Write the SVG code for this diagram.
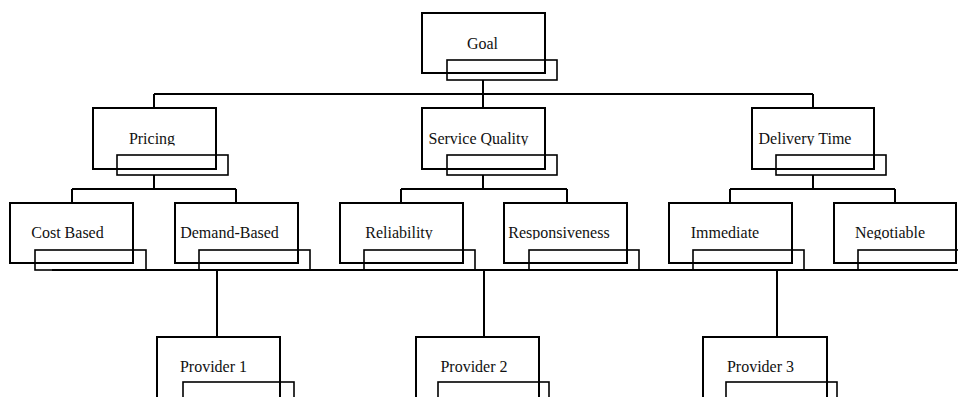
<svg xmlns="http://www.w3.org/2000/svg" width="958" height="397" viewBox="0 0 958 397">
<style>
.box{fill:none;stroke:#000;stroke-width:2}
.tab{fill:none;stroke:#000;stroke-width:1.6}
.con{fill:none;stroke:#000;stroke-width:2}
text{font-family:"Liberation Serif","Times New Roman",serif;font-size:16px;fill:#111;text-anchor:middle}
</style>
<defs>
<clipPath id="c0" clipPathUnits="userSpaceOnUse"><rect x="0" y="0" width="958" height="50.5"/></clipPath>
<clipPath id="c1" clipPathUnits="userSpaceOnUse"><rect x="0" y="100" width="958" height="45.5"/></clipPath>
<clipPath id="c2" clipPathUnits="userSpaceOnUse"><rect x="0" y="200" width="958" height="39.5"/></clipPath>
<clipPath id="c3" clipPathUnits="userSpaceOnUse"><rect x="0" y="340" width="958" height="33.5"/></clipPath>
</defs>
<rect width="958" height="397" fill="#fff"/>
<g id="connectors">
<path class="con" d="M483 80V94M154 94H813M154 94V108M483 94V108M813 94V108"/>
<path class="con" d="M154 175V189M72 189H236M72 189V203M236 189V203"/>
<path class="con" d="M483 175V189M401 189H567M401 189V203M567 189V203"/>
<path class="con" d="M813 175V189M730 189H895M730 189V203M895 189V203"/>
<path class="con" d="M52 270H958" stroke-width="1.6"/>
<path class="con" d="M217 270V337M484 270V337M777 270V337"/>
</g>
<g id="goal"><rect class="box" x="422" y="13" width="123" height="60"/><rect class="tab" x="447" y="60" width="110" height="20"/><text x="482.5" y="49" clip-path="url(#c0)">Goal</text></g>
<g id="pricing"><rect class="box" x="93" y="108" width="123" height="61"/><rect class="tab" x="117" y="155" width="111" height="20"/><text x="152" y="144" clip-path="url(#c1)">Pricing</text></g>
<g id="service-quality"><rect class="box" x="422" y="108" width="123" height="61"/><rect class="tab" x="447" y="155" width="110" height="20"/><text x="478.5" y="144" clip-path="url(#c1)">Service Quality</text></g>
<g id="delivery-time"><rect class="box" x="752" y="108" width="122" height="61"/><rect class="tab" x="776" y="155" width="110" height="20"/><text x="805" y="144" clip-path="url(#c1)">Delivery Time</text></g>
<g id="cost-based"><rect class="box" x="10" y="203" width="123" height="60"/><rect class="tab" x="35" y="250" width="111" height="20"/><text x="67.5" y="238" clip-path="url(#c2)">Cost Based</text></g>
<g id="demand-based"><rect class="box" x="175" y="203" width="123" height="60"/><rect class="tab" x="199" y="250" width="111" height="20"/><text x="229.5" y="238" clip-path="url(#c2)">Demand-Based</text></g>
<g id="reliability"><rect class="box" x="340" y="203" width="123" height="60"/><rect class="tab" x="364" y="250" width="111" height="20"/><text x="399" y="238" clip-path="url(#c2)">Reliability</text></g>
<g id="responsiveness"><rect class="box" x="504" y="203" width="123" height="60"/><rect class="tab" x="529" y="250" width="110" height="20"/><text x="559" y="238" clip-path="url(#c2)">Responsiveness</text></g>
<g id="immediate"><rect class="box" x="669" y="203" width="123" height="60"/><rect class="tab" x="693" y="250" width="111" height="20"/><text x="725" y="238" clip-path="url(#c2)">Immediate</text></g>
<g id="negotiable"><rect class="box" x="834" y="203" width="122" height="60"/><rect class="tab" x="858" y="250" width="111" height="20"/><text x="890" y="238" clip-path="url(#c2)">Negotiable</text></g>
<g id="provider-1"><rect class="box" x="157" y="337" width="123" height="62"/><rect class="tab" x="183" y="382" width="111" height="20"/><text x="213.5" y="372" clip-path="url(#c3)">Provider 1</text></g>
<g id="provider-2"><rect class="box" x="416" y="337" width="123" height="62"/><rect class="tab" x="438" y="382" width="111" height="20"/><text x="474" y="372" clip-path="url(#c3)">Provider 2</text></g>
<g id="provider-3"><rect class="box" x="703" y="337" width="124" height="62"/><rect class="tab" x="726" y="382" width="111" height="20"/><text x="760.5" y="372" clip-path="url(#c3)">Provider 3</text></g>
</svg>
